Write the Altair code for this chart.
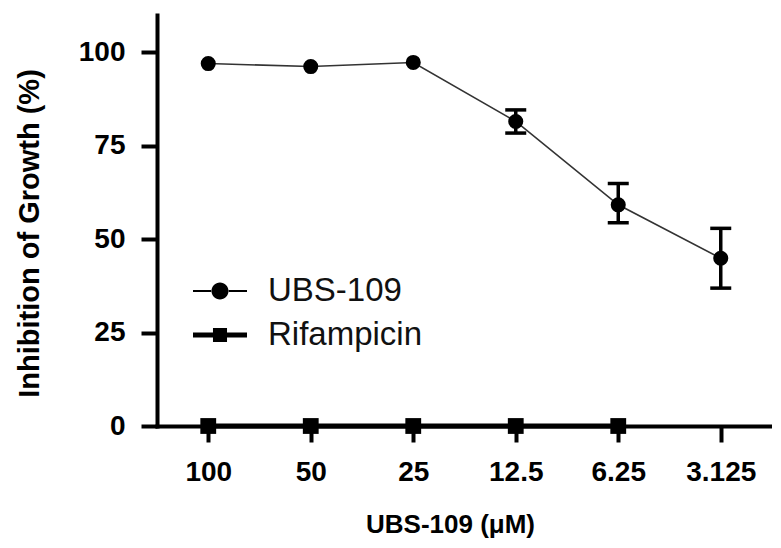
import altair as alt
import pandas as pd

# ---- data ----
concentrations = ["100", "50", "25", "12.5", "6.25", "3.125"]
ubs_mean = [97.0, 96.2, 97.3, 81.5, 59.2, 44.9]
ubs_low = [None, None, None, 78.4, 54.4, 36.9]
ubs_high = [None, None, None, 84.6, 64.9, 52.9]
rif_conc = ["100", "50", "25", "12.5", "6.25"]
rif_mean = [0.0, 0.0, 0.0, 0.0, 0.0]
series_names = ["UBS-109", "Rifampicin"]

ubs = pd.DataFrame({"conc": concentrations, "val": ubs_mean, "lo": ubs_low, "hi": ubs_high})
rif = pd.DataFrame({"conc": rif_conc, "val": rif_mean})
leg = pd.DataFrame({"series": series_names, "conc": ["100", "100"], "val": [0.0, 0.0]})

FONT = "Liberation Sans"

x_enc = alt.X("conc:O", sort=concentrations,
              scale=alt.Scale(type="point", padding=0.5, domain=concentrations),
              axis=alt.Axis(title="UBS-109 (μM)", labelAngle=0, labelAlign="center",
                            labelBaseline="top", labelPadding=16,
                            titleX=293, titleY=106, titleBaseline="alphabetic",
                            titleAlign="center", titleFontSize=26))
y_enc = alt.Y("val:Q", scale=alt.Scale(domain=[0, 110], nice=False, zero=True),
              axis=alt.Axis(title="Inhibition of Growth (%)", values=[0, 25, 50, 75, 100],
                            labelPadding=16, titleAngle=270, titleX=-128, titleY=218,
                            titleAlign="center", titleBaseline="middle", titleFontSize=29))

ubs_line = alt.Chart(ubs).mark_line(color="#333333", strokeWidth=1.6).encode(x=x_enc, y=y_enc)
ubs_err = alt.Chart(ubs).transform_filter("isValid(datum.lo)").mark_rule(
    color="black", strokeWidth=3.5, opacity=1).encode(x="conc:O", y="lo:Q", y2="hi:Q")
ubs_cap_hi = alt.Chart(ubs).transform_filter("isValid(datum.hi)").mark_tick(
    color="black", thickness=3.5, size=21, opacity=1).encode(x="conc:O", y="hi:Q")
ubs_cap_lo = alt.Chart(ubs).transform_filter("isValid(datum.lo)").mark_tick(
    color="black", thickness=3.5, size=21, opacity=1).encode(x="conc:O", y="lo:Q")
ubs_pts = alt.Chart(ubs).mark_point(shape="circle", filled=True, color="black",
                                    opacity=1, size=227).encode(x="conc:O", y="val:Q")

rif_line = alt.Chart(rif).mark_line(color="black", strokeWidth=5).encode(x="conc:O", y="val:Q")
rif_pts = alt.Chart(rif).mark_point(shape="square", filled=True, color="black",
                                    opacity=1, size=250).encode(x="conc:O", y="val:Q")

ubs_path = ("M-1,-0.037H-0.3V0.037H-1Z M0.3,-0.037H1V0.037H0.3Z "
            "M-0.315,0A0.315,0.315,0,1,0,0.315,0A0.315,0.315,0,1,0,-0.315,0Z")
rif_path = "M-1,-0.093H1V0.093H-1Z M-0.26,-0.26H0.26V0.26H-0.26Z"

legend_layer = alt.Chart(leg).transform_filter("false").mark_point(
    filled=True, color="black", opacity=1, size=2916).encode(
    x="conc:O", y="val:Q",
    shape=alt.Shape("series:N",
                    scale=alt.Scale(domain=series_names, range=[ubs_path, rif_path]),
                    legend=alt.Legend(title=None, orient="none", legendX=36, legendY=249,
                                      padding=0, symbolSize=2916, symbolStrokeWidth=0,
                                      symbolFillColor="black", symbolOpacity=1,
                                      labelFont=FONT, labelFontSize=33, labelColor="#111111",
                                      labelOffset=21, rowPadding=-1, labelLimit=400)))

chart = alt.layer(rif_line, ubs_line, ubs_err, ubs_cap_hi, ubs_cap_lo, ubs_pts, rif_pts,
                  legend_layer).properties(
    width=615, height=411,
    autosize=alt.AutoSizeParams(type="none"),
    padding={"left": 149, "top": 7, "right": 0, "bottom": 114},
).configure_view(stroke=None).configure_axis(
    grid=False, domainColor="black", domainWidth=4, tickColor="black", tickWidth=4,
    tickSize=16, labelFont=FONT, labelFontWeight="bold", labelFontSize=28,
    labelColor="black", titleFont=FONT, titleFontWeight="bold", titleColor="black",
    domainCap="square",
)

chart.save("out.html", embed_options={"renderer": "svg", "actions": False})
